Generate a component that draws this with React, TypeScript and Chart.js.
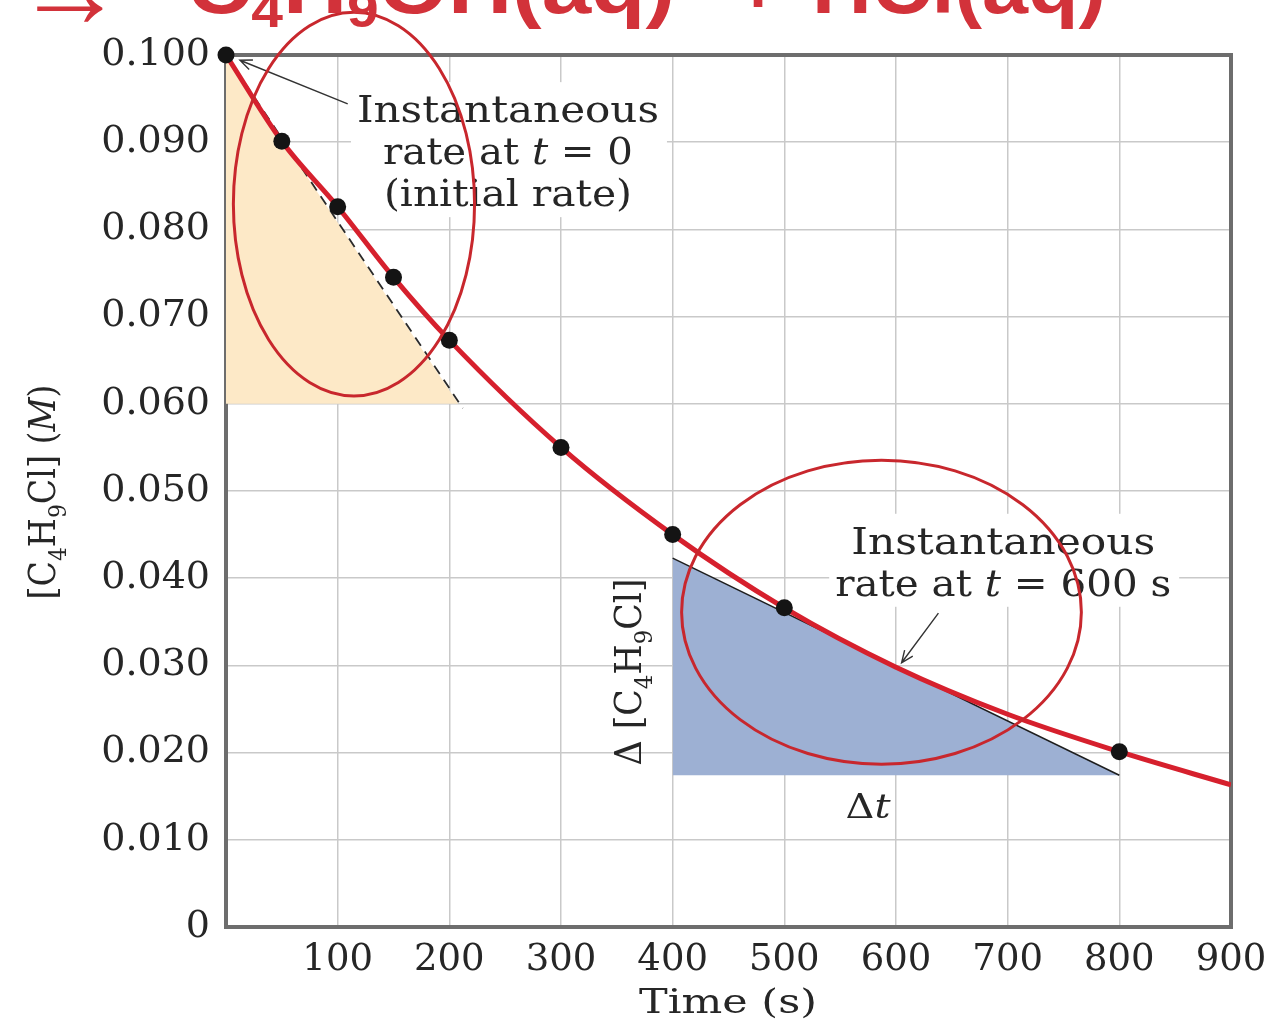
import React, { useEffect, useRef } from "react";
import { Chart, registerables } from "chart.js";

Chart.register(...registerables);

// ---- data ----
// measured concentrations of C4H9Cl
const timeSeconds = [0, 50, 100, 150, 200, 300, 400, 500, 800];
const concentrationM = [0.1, 0.0901, 0.0826, 0.0745, 0.0673, 0.055, 0.045, 0.0366, 0.0201];

// smooth red curve through the data
const curveTimes = [0, 50, 100, 150, 200, 300, 400, 500, 600, 700, 800, 900];
const curveConc = [0.1, 0.0901, 0.0826, 0.0745, 0.0673, 0.055, 0.045, 0.0366, 0.0298, 0.0244, 0.0201, 0.0163];

// dashed tangent at t = 0 and its shaded triangle
const tangent0Times = [0, 212];
const tangent0Conc = [0.1, 0.0595];
const triangle0Times = [0, 208];
const triangle0Conc = [0.1, 0.06];
const triangle0Base = 0.06;

// tangent at t = 600 s and its shaded triangle
const tangent600Times = [400, 800];
const tangent600Conc = [0.0423, 0.0174];
const triangle600Base = 0.0174;

// axes
const xTickValues = [0, 100, 200, 300, 400, 500, 600, 700, 800, 900];
const xTickLabels = ["", "100", "200", "300", "400", "500", "600", "700", "800", "900"];
const yTickValues = [0, 0.01, 0.02, 0.03, 0.04, 0.05, 0.06, 0.07, 0.08, 0.09, 0.1];
const yTickLabels = ["0", "0.010", "0.020", "0.030", "0.040", "0.050", "0.060", "0.070", "0.080", "0.090", "0.100"];

// ---- styling ----
const SERIF = '"DejaVu Serif", "Liberation Serif", serif';
const SANS = '"Liberation Sans", Arial, sans-serif';
const TEXT = "#262626";
const GRID = "#c9c9c9";
const FRAME = "#6d6d6d";
const CURVE_RED = "#d6202d";
const MARK_RED = "#c8272d";
const TITLE_RED = "#d2323a";
const PEACH = "#fde9c7";
const BLUE = "#9db0d3";

type Run = { t: string; size: number; style?: string; sub?: boolean; family?: string; dy?: number };

const fontOf = (r: Run) => `${r.style || ""} ${r.size}px ${r.family || SERIF}`.trim();

function runsWidth(ctx: CanvasRenderingContext2D, runs: Run[]) {
  let w = 0;
  for (const r of runs) {
    ctx.font = fontOf(r);
    w += ctx.measureText(r.t).width;
  }
  return w;
}

// draws a line of rich text; baseline at (x,y); optional width to match the reference
function drawRuns(
  ctx: CanvasRenderingContext2D,
  runs: Run[],
  x: number,
  y: number,
  align: "left" | "center" | "right",
  target?: number
) {
  const natural = runsWidth(ctx, runs);
  const sx = target ? target / natural : 1;
  const w = natural * sx;
  const left = align === "center" ? x - w / 2 : align === "right" ? x - w : x;
  ctx.save();
  ctx.translate(left, y);
  ctx.scale(sx, 1);
  ctx.textAlign = "left";
  ctx.textBaseline = "alphabetic";
  let cx = 0;
  for (const r of runs) {
    ctx.font = fontOf(r);
    const dy = r.dy !== undefined ? r.dy : r.sub ? r.size * 0.45 : 0;
    ctx.fillText(r.t, cx, dy);
    cx += ctx.measureText(r.t).width;
  }
  ctx.restore();
  return { left, right: left + w };
}

const A = 37; // annotation font size
const SUB = 25;

const notes = [
  {
    t: 252.5,
    c: 0.0923,
    gap: 42,
    lines: [
      { runs: [{ t: "Instantaneous", size: A }] as Run[], width: 302 },
      { runs: [{ t: "rate at ", size: A }, { t: "t", size: A, style: "italic" }, { t: " = 0", size: A }] as Run[], width: 250 },
      { runs: [{ t: "(initial rate)", size: A }] as Run[], width: 248 },
    ],
  },
  {
    t: 696,
    c: 0.0428,
    gap: 42,
    lines: [
      { runs: [{ t: "Instantaneous", size: A }] as Run[], width: 304 },
      {
        runs: [{ t: "rate at ", size: A }, { t: "t", size: A, style: "italic" }, { t: " = 600 s", size: A }] as Run[],
        width: 336,
      },
    ],
  },
];

const arrows = [
  { from: [109, 0.0944], to: [12.5, 0.0994] },
  { from: [638, 0.036], to: [605, 0.0303] },
];

const ellipses = [
  { t: 114.6, c: 0.0829, rt: 108, rc: 0.022 },
  { t: 587, c: 0.0361, rt: 179, rc: 0.01743 },
];

function arrow(ctx: CanvasRenderingContext2D, x1: number, y1: number, x2: number, y2: number) {
  const ang = Math.atan2(y2 - y1, x2 - x1);
  const len = 13;
  const spread = 0.4;
  ctx.beginPath();
  ctx.moveTo(x1, y1);
  ctx.lineTo(x2, y2);
  ctx.moveTo(x2 - len * Math.cos(ang - spread), y2 - len * Math.sin(ang - spread));
  ctx.lineTo(x2, y2);
  ctx.lineTo(x2 - len * Math.cos(ang + spread), y2 - len * Math.sin(ang + spread));
  ctx.stroke();
}

const annotationPlugin = {
  id: "rateAnnotations",
  beforeDatasetsDraw(chart: any) {
    const { ctx, chartArea: a } = chart;
    const xs = chart.scales.x;
    const ys = chart.scales.y;
    ctx.save();
    // white backing behind the annotation labels (knocks out grid lines)
    for (const n of notes) {
      const cx = xs.getPixelForValue(n.t);
      const by = ys.getPixelForValue(n.c);
      const maxW = Math.max(...n.lines.map((l) => l.width));
      const lastBase = by + n.gap * (n.lines.length - 1);
      ctx.fillStyle = "#ffffff";
      ctx.fillRect(cx - maxW / 2 - 6, by - 40, maxW + 14, lastBase + 11 - (by - 40));
    }
    // frame
    ctx.strokeStyle = FRAME;
    ctx.lineWidth = 4;
    ctx.strokeRect(a.left, a.top, a.right - a.left, a.bottom - a.top);
    ctx.restore();
  },
  afterDatasetsDraw(chart: any) {
    const { ctx } = chart;
    const xs = chart.scales.x;
    const ys = chart.scales.y;
    const px = (t: number) => xs.getPixelForValue(t);
    const py = (c: number) => ys.getPixelForValue(c);
    ctx.save();
    ctx.fillStyle = TEXT;

    // annotation texts
    for (const n of notes) {
      const cx = px(n.t);
      const by = py(n.c);
      n.lines.forEach((l, i) => drawRuns(ctx, l.runs, cx, by + i * n.gap, "center", l.width));
    }

    // arrows
    ctx.strokeStyle = "#333333";
    ctx.lineWidth = 1.4;
    for (const ar of arrows) {
      arrow(ctx, px(ar.from[0]), py(ar.from[1]), px(ar.to[0]), py(ar.to[1]));
    }

    // delta labels on the blue triangle
    ctx.fillStyle = TEXT;
    ctx.save();
    ctx.translate(641, 672);
    ctx.rotate(-Math.PI / 2);
    drawRuns(
      ctx,
      [
        { t: "Δ [C", size: 38 },
        { t: "4", size: SUB, sub: true },
        { t: "H", size: 38 },
        { t: "9", size: SUB, sub: true },
        { t: "Cl]", size: 38 },
      ],
      0,
      0,
      "center",
      187
    );
    ctx.restore();
    drawRuns(ctx, [{ t: "Δ", size: 34 }, { t: "t", size: 34, style: "italic" }], 868, 818, "center", 45);

    // axis titles
    ctx.save();
    ctx.translate(55, 492);
    ctx.rotate(-Math.PI / 2);
    drawRuns(
      ctx,
      [
        { t: "[C", size: 38 },
        { t: "4", size: SUB, sub: true },
        { t: "H", size: 38 },
        { t: "9", size: SUB, sub: true },
        { t: "Cl] (", size: 38 },
        { t: "M", size: 38, style: "italic" },
        { t: ")", size: 38 },
      ],
      0,
      0,
      "center",
      215
    );
    ctx.restore();
    drawRuns(ctx, [{ t: "Time (s)", size: 34 }], 728, 1013, "center", 178);

    // red hand-drawn ellipses
    ctx.strokeStyle = MARK_RED;
    ctx.lineWidth = 3;
    for (const e of ellipses) {
      const cx = px(e.t);
      const cy = py(e.c);
      const rx = px(e.t + e.rt) - cx;
      const ry = cy - py(e.c + e.rc);
      ctx.beginPath();
      ctx.ellipse(cx, cy, rx, ry, 0, 0, Math.PI * 2);
      ctx.stroke();
    }

    // cut-off red reaction title at the very top
    ctx.fillStyle = TITLE_RED;
    const big = 78;
    const small = 50;
    const B = (t: string, sub = false): Run => ({
      t,
      size: sub ? small : big,
      style: "bold",
      family: SANS,
      dy: sub ? 14 : 0,
    });
    drawRuns(ctx, [{ t: "→", size: 110, style: "bold", family: SANS }], 125, 27, "right");
    drawRuns(ctx, [B("C"), B("4", true), B("H"), B("9", true), B("OH(aq)")], 187, 13, "left", 488);
    drawRuns(ctx, [B("+")], 758, 13, "center");
    drawRuns(ctx, [B("HCl(aq)")], 1106, 13, "right", 294);
    ctx.restore();
  },
};

export default function App() {
  const ref = useRef<HTMLCanvasElement>(null);
  useEffect(() => {
    const canvas = ref.current;
    if (!canvas) return;
    const pts = (xs: number[], ys: number[]) => xs.map((x, i) => ({ x, y: ys[i] }));
    const chart = new Chart(canvas, {
      type: "line",
      data: {
        datasets: [
          {
            label: "initial-rate triangle",
            data: pts(triangle0Times, triangle0Conc),
            fill: { value: triangle0Base },
            backgroundColor: PEACH,
            borderWidth: 0,
            pointRadius: 0,
            order: 10,
          },
          {
            label: "tangent at 600 s",
            data: pts(tangent600Times, tangent600Conc),
            fill: { value: triangle600Base },
            backgroundColor: BLUE,
            borderColor: "#1e1e1e",
            borderWidth: 1.5,
            pointRadius: 0,
            order: 9,
          },
          {
            label: "tangent at 0",
            data: pts(tangent0Times, tangent0Conc),
            fill: false,
            borderColor: "#2a2a2a",
            borderWidth: 1.8,
            borderDash: [10, 7],
            pointRadius: 0,
            order: 8,
          },
          {
            label: "curve",
            data: pts(curveTimes, curveConc),
            fill: false,
            borderColor: CURVE_RED,
            borderWidth: 5,
            cubicInterpolationMode: "monotone",
            pointRadius: 0,
            order: 2,
          },
          {
            label: "[C4H9Cl]",
            data: pts(timeSeconds, concentrationM),
            showLine: false,
            pointRadius: 8.5,
            pointBackgroundColor: "#141414",
            pointBorderWidth: 0,
            clip: false,
            order: 1,
          },
        ],
      },
      options: {
        animation: false,
        responsive: false,
        maintainAspectRatio: false,
        layout: { padding: { top: 55, right: 38, left: 0, bottom: 0 } },
        plugins: { legend: { display: false }, tooltip: { enabled: false } },
        scales: {
          x: {
            type: "linear",
            min: 0,
            max: 900,
            afterBuildTicks: (s: any) => {
              s.ticks = xTickValues.map((v) => ({ value: v }));
            },
            afterFit: (s: any) => {
              s.height = 93;
              s.paddingLeft = 0;
              s.paddingRight = 0;
            },
            ticks: {
              autoSkip: false,
              maxRotation: 0,
              padding: 11,
              color: TEXT,
              font: { family: SERIF, size: 37 },
              callback: (_v: any, i: number) => xTickLabels[i],
            },
            grid: { color: GRID, lineWidth: 1.5, drawTicks: false },
            border: { display: false },
          },
          y: {
            type: "linear",
            min: 0,
            max: 0.1,
            afterBuildTicks: (s: any) => {
              s.ticks = yTickValues.map((v) => ({ value: v }));
            },
            afterFit: (s: any) => {
              s.width = 226;
              s.paddingTop = 0;
              s.paddingBottom = 0;
            },
            ticks: {
              autoSkip: false,
              padding: 16,
              color: TEXT,
              font: { family: SERIF, size: 38 },
              callback: (_v: any, i: number) => yTickLabels[i],
            },
            grid: { color: GRID, lineWidth: 1.5, drawTicks: false },
            border: { display: false },
          },
        },
      },
      plugins: [annotationPlugin],
    } as any);
    return () => chart.destroy();
  }, []);

  return (
    <div style={{ position: "fixed", left: 0, top: 0, width: 1269, height: 1020, background: "#ffffff" }}>
      <canvas ref={ref} width={1269} height={1020} style={{ display: "block", width: 1269, height: 1020 }} />
    </div>
  );
}
